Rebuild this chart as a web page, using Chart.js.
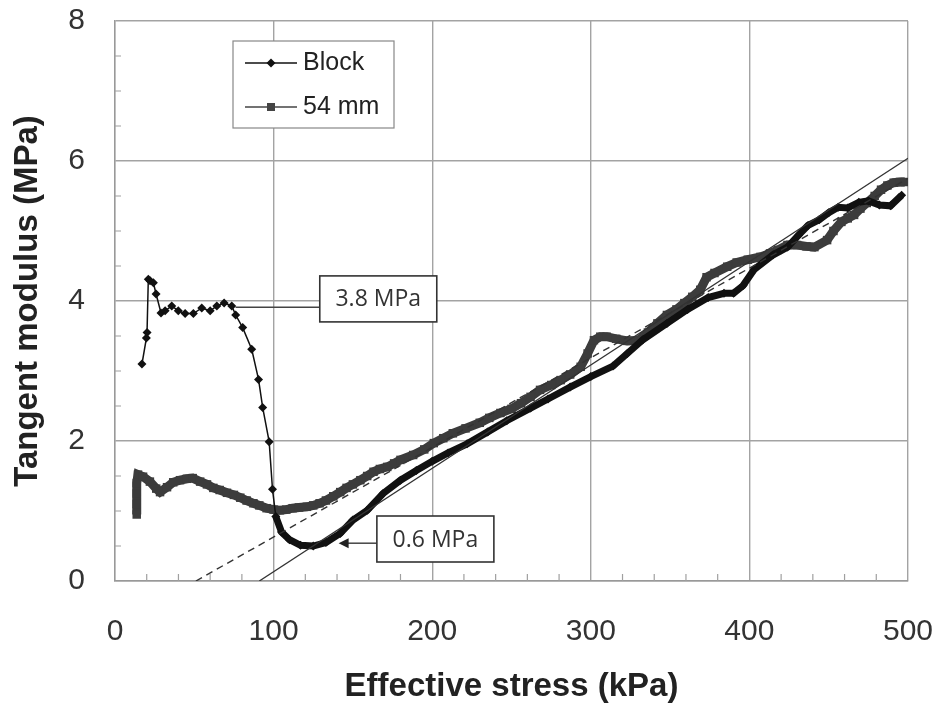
<!DOCTYPE html>
<html lang="en">
<head>
  <meta charset="UTF-8">
  <title>Tangent modulus vs effective stress</title>
  <script src="https://cdn.jsdelivr.net/npm/chart.js"></script>
  <style>
    body {
      margin: 0;
      background: #fff;
    }

    .wrap {
      width: 942px;
      height: 708px;
      position: relative;
    }
  </style>
</head>
<body>

  <div class="wrap">
    <canvas id="modChart"></canvas>
  </div>

  <script>
    // Block sample (diamonds) - effective stress (kPa) / tangent modulus (MPa)
    const blockStress = [17, 19.8, 20.2, 21, 22.1, 24.2, 25.9, 29, 31.6, 35.8, 39.9, 44.2, 49.4, 54.7, 60, 64.2,
      68.8, 73.6, 76.1, 80.5, 86.2, 90.5, 93.1, 97.2, 99.3, 101.4, 105, 110, 117, 125, 133, 142, 150, 159, 169,
      180, 190, 200, 210, 222, 235, 247, 262, 273, 287, 300, 314, 323, 333, 348, 361, 374, 384, 390, 396, 403,
      415, 424, 431, 437, 444, 450, 456, 462, 469, 475, 482, 489, 496];
    const blockModulus = [3.10, 3.47, 3.55, 4.31, 4.29, 4.26, 4.10, 3.83, 3.86, 3.93, 3.86, 3.82, 3.82, 3.90, 3.86, 3.93,
      3.97, 3.93, 3.80, 3.62, 3.31, 2.88, 2.48, 1.99, 1.31, 0.92, 0.70, 0.59, 0.51, 0.50, 0.55, 0.68, 0.87, 1.01, 1.25,
      1.44, 1.58, 1.71, 1.83, 1.96, 2.13, 2.29, 2.47, 2.60, 2.77, 2.92, 3.07, 3.25, 3.45, 3.68, 3.88, 4.05, 4.11, 4.11, 4.22, 4.45,
      4.66, 4.77, 4.94, 5.08, 5.16, 5.26, 5.34, 5.33, 5.41, 5.43, 5.37, 5.36, 5.51];

    // 54 mm sample (squares)
    const tubeStress = [13.7, 13.7, 13.7, 13.7, 14.5, 17.7, 22, 26, 28.4, 32.8, 36.7, 41, 45.3, 49, 53.7, 58, 62, 66,
      70.6, 75, 79, 83, 87.3, 91, 95.6, 100, 104, 108, 112, 116, 121, 125, 129, 133, 137.6, 142, 146, 150, 154.7,
      159, 163, 167, 171.7, 176, 180, 188, 195, 201, 207, 213, 221, 230, 236, 243, 250, 256, 262, 268, 275, 281,
      287, 293.6, 298, 302, 306, 310, 316, 323, 330, 336, 342, 348, 354, 359, 364, 369, 373, 378, 386, 392, 399,
      407, 413, 418, 424, 430, 436, 441, 449, 453, 458, 462, 466, 470, 474, 479, 483, 487, 491, 495, 498];
    const tubeModulus = [0.95, 1.10, 1.25, 1.40, 1.52, 1.49, 1.42, 1.32, 1.27, 1.34, 1.41, 1.44, 1.46, 1.47, 1.42, 1.38, 1.33, 1.30,
      1.26, 1.23, 1.19, 1.15, 1.11, 1.08, 1.04, 1.02, 1.01, 1.02, 1.04, 1.05, 1.06, 1.08, 1.11, 1.15, 1.21, 1.27, 1.33, 1.38, 1.44,
      1.50, 1.56, 1.60, 1.63, 1.68, 1.73, 1.80, 1.88, 1.97, 2.04, 2.11, 2.18, 2.26, 2.33, 2.40, 2.46, 2.54, 2.63, 2.73, 2.80, 2.87,
      2.95, 3.06, 3.25, 3.44, 3.49, 3.49, 3.46, 3.43, 3.44, 3.55, 3.68, 3.80, 3.88, 3.97, 4.06, 4.16, 4.34, 4.40, 4.49, 4.55, 4.59,
      4.63, 4.68, 4.73, 4.80, 4.80, 4.78, 4.77, 4.87, 5.00, 5.13, 5.18, 5.23, 5.32, 5.40, 5.50, 5.59, 5.65, 5.69, 5.70, 5.70];

    // straight reference lines
    const solidFitStress = [91, 500];
    const solidFitModulus = [0, 6.04];
    const dashFitStress = [51, 500];
    const dashFitModulus = [0, 5.75];

    const legendLabels = ['Block', '54 mm'];

    // call-out labels, anchored in data units
    const noteText = ['3.8 MPa', '0.6 MPa'];
    const noteStress = [166, 202];
    const noteModulus = [4.03, 0.60];
    const noteLeadStress = [76, 141];
    const noteLeadModulus = [3.91, 0.54];
    const noteArrow = [false, true];

    const pairs = (xs, ys) => xs.map((v, i) => ({ x: v, y: ys[i] }));

    const sans = "'Liberation Sans', Arial, sans-serif";

    // minor ticks, call-outs and the boxed legend
    const extras = {
      id: 'extras',
      beforeDatasetsDraw(chart) {
        const { ctx, chartArea: a, scales: { x, y } } = chart;
        ctx.save();
        ctx.strokeStyle = '#a0a0a0';
        ctx.lineWidth = 1.2;
        ctx.beginPath();
        for (let v = 20; v < 500; v += 20) {
          if (v % 100 === 0) continue;
          const px = x.getPixelForValue(v);
          ctx.moveTo(px, a.bottom);
          ctx.lineTo(px, a.bottom - 7);
        }
        for (let v = 0.5; v < 8; v += 0.5) {
          if (v % 2 === 0) continue;
          const py = y.getPixelForValue(v);
          ctx.moveTo(a.left, py);
          ctx.lineTo(a.left + 6, py);
        }
        ctx.stroke();
        ctx.restore();
      },
      afterDatasetsDraw(chart) {
        const { ctx, chartArea: a, scales: { x, y } } = chart;
        ctx.save();

        // call-outs
        noteText.forEach((txt, i) => {
          const cx = x.getPixelForValue(noteStress[i]);
          const cy = y.getPixelForValue(noteModulus[i]);
          const w = 117, h = 46;
          const bx = cx - w / 2, by = cy - h / 2;
          const ly = y.getPixelForValue(noteLeadModulus[i]);
          const lx = x.getPixelForValue(noteLeadStress[i]);

          ctx.strokeStyle = '#444';
          ctx.lineWidth = 1.5;
          ctx.beginPath();
          ctx.moveTo(noteArrow[i] ? lx + 8 : lx, ly);
          ctx.lineTo(bx, ly);
          ctx.stroke();
          if (noteArrow[i]) {
            ctx.fillStyle = '#222';
            ctx.beginPath();
            ctx.moveTo(lx, ly);
            ctx.lineTo(lx + 10, ly - 5);
            ctx.lineTo(lx + 10, ly + 5);
            ctx.closePath();
            ctx.fill();
          }

          ctx.fillStyle = '#fff';
          ctx.fillRect(bx, by, w, h);
          ctx.strokeStyle = '#333';
          ctx.lineWidth = 1.6;
          ctx.strokeRect(bx, by, w, h);
          ctx.fillStyle = '#333';
          ctx.font = "23px 'Open Sans', sans-serif";
          ctx.textAlign = 'center';
          ctx.textBaseline = 'middle';
          ctx.fillText(txt, cx, cy + 1);
        });

        // legend box
        const lx = a.left + 118, ly = a.top + 20;
        ctx.fillStyle = '#fff';
        ctx.fillRect(lx, ly, 161, 87);
        ctx.strokeStyle = '#888';
        ctx.lineWidth = 1.2;
        ctx.strokeRect(lx, ly, 161, 87);

        const rows = [ly + 22, ly + 66];
        rows.forEach((ry, i) => {
          const col = i === 0 ? '#111' : '#444';
          ctx.strokeStyle = col;
          ctx.lineWidth = 1.5;
          ctx.beginPath();
          ctx.moveTo(lx + 12, ry);
          ctx.lineTo(lx + 64, ry);
          ctx.stroke();
          ctx.fillStyle = col;
          const mx = lx + 38;
          ctx.beginPath();
          if (i === 0) {
            ctx.moveTo(mx, ry - 4.5);
            ctx.lineTo(mx + 4.5, ry);
            ctx.lineTo(mx, ry + 4.5);
            ctx.lineTo(mx - 4.5, ry);
            ctx.closePath();
          } else {
            ctx.rect(mx - 4, ry - 4, 8, 8);
          }
          ctx.fill();

          ctx.fillStyle = '#222';
          ctx.font = '25px ' + sans;
          ctx.textAlign = 'left';
          ctx.textBaseline = 'middle';
          ctx.fillText(legendLabels[i], lx + 70, ry);
        });

        ctx.restore();
      }
    };

    const ctx = document.getElementById('modChart').getContext('2d');

    new Chart(ctx, {
      type: 'line',
      data: {
        datasets: [
          {
            label: 'fit',
            data: pairs(solidFitStress, solidFitModulus),
            borderColor: '#333',
            borderWidth: 1.3,
            pointRadius: 0
          },
          {
            label: 'fit dashed',
            data: pairs(dashFitStress, dashFitModulus),
            borderColor: '#333',
            borderWidth: 1.4,
            borderDash: [7, 5],
            pointRadius: 0
          },
          {
            label: legendLabels[0],
            data: pairs(blockStress, blockModulus),
            borderColor: '#111',
            backgroundColor: '#111',
            borderWidth: 1.5,
            segment: {
              borderWidth: c => (c.p0.parsed.x >= 100 ? 7 : 1.5)
            },
            pointStyle: 'rectRot',
            pointRadius: 4.5,
            pointBorderWidth: 0,
            tension: 0
          },
          {
            label: legendLabels[1],
            data: pairs(tubeStress, tubeModulus),
            borderColor: '#3c3c3c',
            backgroundColor: '#3c3c3c',
            borderWidth: 9,
            pointStyle: 'rect',
            pointRadius: 6,
            pointBorderWidth: 0,
            tension: 0
          }
        ]
      },
      options: {
        responsive: true,
        maintainAspectRatio: false,
        animation: false,
        layout: { padding: { top: 21, right: 34, bottom: 0, left: 0 } },
        plugins: {
          legend: { display: false },
          tooltip: { enabled: false }
        },
        scales: {
          x: {
            type: 'linear',
            min: 0,
            max: 500,
            afterFit: s => {
              s.height = 127;
              s.paddingLeft = 0;
              s.paddingRight = 0;
            },
            ticks: {
              stepSize: 100,
              padding: 33,
              color: '#333',
              font: { family: sans, size: 30 }
            },
            grid: { color: '#a3a3a3', lineWidth: 1.4, drawTicks: false },
            border: { color: '#999', width: 1.4 },
            title: {
              display: true,
              text: 'Effective stress (kPa)',
              color: '#222',
              font: { family: sans, size: 33, weight: 'bold' },
              padding: { top: 0, bottom: 1 }
            }
          },
          y: {
            min: 0,
            max: 8,
            afterFit: s => {
              s.width = 115;
              s.paddingTop = 0;
              s.paddingBottom = 0;
            },
            ticks: {
              stepSize: 2,
              padding: 30,
              color: '#333',
              font: { family: sans, size: 30 }
            },
            grid: { color: '#a3a3a3', lineWidth: 1.4, drawTicks: false },
            border: { color: '#999', width: 1.4 },
            title: {
              display: true,
              text: 'Tangent modulus (MPa)',
              color: '#222',
              font: { family: sans, size: 33, weight: 'bold' },
              padding: { top: 8, bottom: 0 }
            }
          }
        }
      },
      plugins: [extras]
    });
  </script>

</body>
</html>
